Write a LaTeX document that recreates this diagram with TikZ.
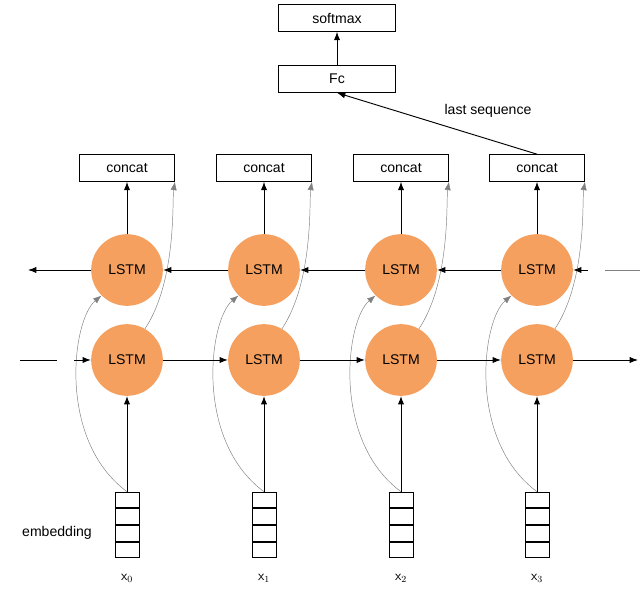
\documentclass[tikz,border=0pt]{standalone}
\usepackage{fontspec}
\setmainfont{Liberation Sans}
\usetikzlibrary{arrows.meta, positioning}
\definecolor{cellorange}{RGB}{245,160,95}
\tikzstyle{cell} = [circle, minimum size=2.15cm, fill=cellorange, font=\large, inner sep=0pt]
\tikzstyle{box} = [rectangle, draw=black, thick, minimum width=2.85cm, minimum height=0.8cm, inner sep=0pt, font=\large]
\tikzstyle{emb} = [rectangle, draw=black, thick, minimum width=0.72cm, minimum height=0.47cm, inner sep=0pt]
\tikzstyle{arrow} = [thick, -{Latex[length=2.5mm]}]
\tikzstyle{skip} = [gray, -{Latex[length=2.5mm]}]

\begin{document}
\begin{tikzpicture}[x=0.03cm, y=-0.03cm]
\useasboundingbox (0,0) rectangle (640,599);

\node (softmax) [box, minimum width=3.5cm] at (337,18) {softmax};
\node (fc) [box, minimum width=3.5cm] at (337,79) {Fc};
\node (lastlbl) [font=\large] at (488,111) {last sequence};

\foreach \i/\x in {0/127, 1/264, 2/401, 3/537} {
  \node (concat\i) [box] at (\x,168) {concat};
  \node (bwd\i) [cell] at (\x,270) {LSTM};
  \node (fwd\i) [cell] at (\x,360) {LSTM};
  \node (e\i a) [emb] at (\x,500) {};
  \node (e\i b) [emb, below=0pt of e\i a] {};
  \node (e\i c) [emb, below=0pt of e\i b] {};
  \node (e\i d) [emb, below=0pt of e\i c] {};
  \node (xlbl\i) [font=\large] at (\x,578) {$\mathsf{x}_{\i}$};
  \draw [arrow] (e\i a.north) -- (fwd\i);
  \draw [arrow] (bwd\i) -- (concat\i);
  \draw [skip] (e\i a.north) .. controls (\x-70,440) and (\x-55,320) .. (bwd\i.225);
  \draw [skip] (fwd\i.60) .. controls (\x+50,280) and (\x+45,200) .. (concat\i.south east);
}
\node (emblbl) [font=\large] at (57,533) {embedding};

\draw [arrow] (fc) -- (softmax);
\draw [arrow] (concat3.north) -- (fc.south);

\foreach \a/\b in {0/1, 1/2, 2/3} {
  \draw [arrow] (fwd\a) -- (fwd\b);
  \draw [arrow] (bwd\b) -- (bwd\a);
}

\coordinate (lin) at (20,360);
\coordinate (linend) at (57,360);
\coordinate (linarr) at (74,360);
\draw [thick] (lin) -- (linend);
\draw [arrow] (linarr) -- (fwd0);
\coordinate (rout) at (638,360);
\draw [arrow] (fwd3) -- (rout);
\coordinate (lout) at (28,270);
\draw [arrow] (bwd0) -- (lout);
\coordinate (rin) at (640,270);
\coordinate (rinend) at (605,270);
\coordinate (rinarr) at (588,270);
\draw [thick, gray] (rin) -- (rinend);
\draw [arrow] (rinarr) -- (bwd3);
\end{tikzpicture}
\end{document}
